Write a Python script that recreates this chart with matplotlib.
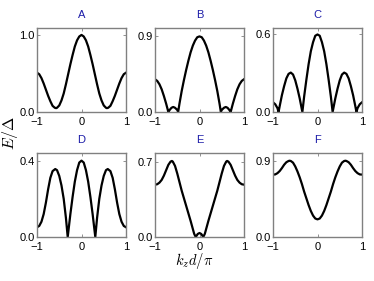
import matplotlib
matplotlib.use("Agg")
import matplotlib.pyplot as plt

plt.rcParams['font.family'] = ['Liberation Sans', 'DejaVu Sans']
plt.rcParams['mathtext.fontset'] = 'cm'

# panel data: k_z d / pi  vs  E / Delta
kA = [-1, -.95, -.9, -.85, -.8, -.75, -.7, -.65, -.6, -.57, -.55, -.5, -.45, -.4, -.35, -.3, -.25, -.2, -.15, -.1, -.05, 0,
      .05, .1, .15, .2, .25, .3, .35, .4, .45, .5, .55, .57, .6, .65, .7, .75, .8, .85, .9, .95, 1]
eA = [.51, .49, .44, .37, .29, .21, .14, .08, .055, .05, .055, .085, .15, .24, .36, .49, .62, .74, .85, .93, .98, 1.0,
      .98, .93, .85, .74, .62, .49, .36, .24, .15, .085, .055, .05, .055, .08, .14, .21, .29, .37, .44, .49, .51]

kB = [-1, -.95, -.9, -.85, -.8, -.75, -.7, -.67, -.63, -.59, -.55, -.5, -.48, -.45, -.4, -.35, -.3, -.25, -.2, -.15, -.1, -.05, 0,
      .05, .1, .15, .2, .25, .3, .35, .4, .45, .48, .5, .55, .59, .63, .67, .7, .75, .8, .85, .9, .95, 1]
eB = [.39, .37, .33, .27, .19, .10, 0, .025, .05, .06, .05, .025, 0, .10, .25, .38, .50, .61, .71, .79, .85, .89, .90,
      .89, .85, .79, .71, .61, .50, .38, .25, .10, 0, .025, .05, .06, .05, .025, 0, .10, .19, .27, .33, .37, .39]

kC = [-1, -.95, -.9, -.875, -.85, -.8, -.75, -.7, -.65, -.6, -.55, -.5, -.45, -.4, -.34, -.3, -.25, -.2, -.15, -.1, -.05, 0,
      .05, .1, .15, .2, .25, .3, .34, .4, .45, .5, .55, .6, .65, .7, .75, .8, .85, .875, .9, .95, 1]
eC = [.075, .06, .03, 0, .045, .13, .20, .26, .295, .305, .29, .245, .18, .105, 0, .12, .25, .37, .47, .54, .59, .60,
      .59, .54, .47, .37, .25, .12, 0, .105, .18, .245, .29, .305, .295, .26, .20, .13, .045, 0, .03, .06, .075]

kD = [-1, -.95, -.9, -.85, -.8, -.75, -.7, -.65, -.59, -.55, -.5, -.45, -.4, -.35, -.31, -.28, -.25, -.2, -.15, -.1, -.05, 0,
      .05, .1, .15, .2, .25, .28, .31, .35, .4, .45, .5, .55, .59, .65, .7, .75, .8, .85, .9, .95, 1]
eD = [.051, .058, .08, .12, .18, .25, .31, .345, .356, .35, .32, .27, .20, .10, 0, .06, .12, .21, .29, .35, .39, .40,
      .39, .35, .29, .21, .12, .06, 0, .10, .20, .27, .32, .35, .356, .345, .31, .25, .18, .12, .08, .058, .051]

kE = [-1, -.95, -.9, -.85, -.8, -.75, -.7, -.65, -.62, -.6, -.55, -.5, -.45, -.4, -.35, -.3, -.25, -.2, -.15, -.12, -.085, -.04, 0,
      .04, .085, .12, .15, .2, .25, .3, .35, .4, .45, .5, .55, .6, .62, .65, .7, .75, .8, .85, .9, .95, 1]
eE = [.486, .49, .505, .53, .57, .62, .67, .70, .706, .70, .66, .59, .51, .43, .36, .29, .22, .15, .075, .03, 0, .028, .037,
      .028, 0, .03, .075, .15, .22, .29, .36, .43, .51, .59, .66, .70, .706, .70, .67, .62, .57, .53, .505, .49, .486]

kF = [-1, -.95, -.9, -.85, -.8, -.75, -.7, -.65, -.63, -.6, -.55, -.5, -.45, -.4, -.35, -.3, -.25, -.2, -.15, -.1, -.05, 0,
      .05, .1, .15, .2, .25, .3, .35, .4, .45, .5, .55, .6, .63, .65, .7, .75, .8, .85, .9, .95, 1]
eF = [.743, .745, .76, .785, .82, .86, .89, .905, .908, .905, .885, .84, .78, .71, .63, .54, .46, .38, .31, .255, .22, .21,
      .22, .255, .31, .38, .46, .54, .63, .71, .78, .84, .885, .905, .908, .905, .89, .86, .82, .785, .76, .745, .743]

titles = ['A', 'B', 'C', 'D', 'E', 'F']
curves = [(kA, eA), (kB, eB), (kC, eC), (kD, eD), (kE, eE), (kF, eF)]
ytop_ticks = [1.0, 0.9, 0.6, 0.4, 0.7, 0.9]
ylim_tops = [1.09, 1.0, 0.65, 0.44, 0.78, 1.0]

W, H = 374, 281
fig = plt.figure(figsize=(W / 100, H / 100), dpi=100)

lefts = [37, 155, 273]
bottoms = [112, 237]
aw, ah = 89, 84

for i in range(6):
    row, col = divmod(i, 3)
    ax = fig.add_axes([lefts[col] / W, 1 - bottoms[row] / H, aw / W, ah / H])
    k, e = curves[i]
    ax.plot(k, e, color='black', lw=1.6)
    ax.set_xlim(-1, 1)
    ax.set_ylim(0, ylim_tops[i])
    ax.set_xticks([-1, 0, 1])
    ax.set_xticklabels(['\u22121', '0', '1'])
    ax.set_yticks([0, ytop_ticks[i]])
    ax.set_yticklabels(['0.0', '%.1f' % ytop_ticks[i]])
    ax.tick_params(direction='in', length=2, width=0.6, top=True, right=True,
                   color='#808080', labelsize=8)
    ax.tick_params(axis='x', pad=3.5)
    ax.tick_params(axis='y', pad=1.5)
    for sp in ax.spines.values():
        sp.set_color('#808080')
        sp.set_linewidth(1.0)
    ax.set_title(titles[i], color='#1c1ca8', fontsize=8, pad=7)

fig.text(10 / W, 1 - 133 / H, r'$E/\Delta$', rotation=90, ha='center', va='center', fontsize=11.5)
fig.text(194 / W, 1 - 261 / H, r'$k_z d/\pi$', ha='center', va='center', fontsize=10.5)

fig.savefig('out.png', dpi=100)
